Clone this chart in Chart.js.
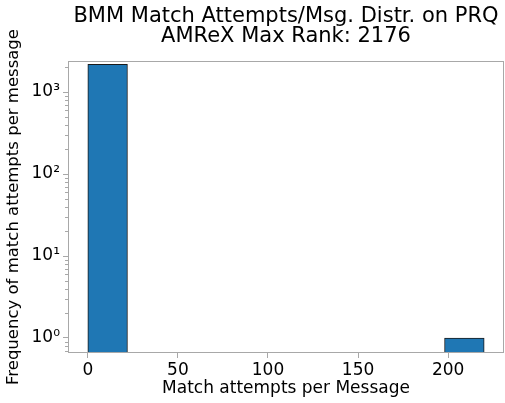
<!DOCTYPE html>
<html>
<head>
<meta charset="utf-8">
<script src="https://cdn.jsdelivr.net/npm/chart.js@4/dist/chart.umd.min.js"></script>
<style>
  html, body { margin: 0; padding: 0; background: #fff; }
  #wrap { width: 505px; height: 403px; }
</style>
</head>
<body>
<div id="wrap"><canvas id="myChart"></canvas></div>
<script>
// histogram: 10 bins of width 22 between 0 and 220
const binCenters = [11, 33, 55, 77, 99, 121, 143, 165, 187, 209]
const binCounts = [2175, null, null, null, null, null, null, null, null, 1]
const xTicks = [0, 50, 100, 150, 200]
const yTicks = [1, 10, 100, 1000]
const yTickLabels = ['10\u2070', '10\u00b9', '10\u00b2', '10\u00b3']
const titleLines = ['BMM Match Attempts/Msg. Distr. on PRQ', 'AMReX Max Rank: 2176']

const spineColor = '#a8a8a8'
const fontFam = "'DejaVu Sans', sans-serif"

// titolo centrato sull'area del grafico (come matplotlib)
const axesTitle = {
  id: 'axesTitle',
  afterDraw(chart) {
    const { ctx, chartArea } = chart
    const cx = (chartArea.left + chartArea.right) / 2
    ctx.save()
    ctx.font = '21px ' + fontFam
    ctx.fillStyle = '#000'
    ctx.textAlign = 'center'
    ctx.textBaseline = 'alphabetic'
    ctx.fillText(titleLines[0], cx, 22)
    ctx.fillText(titleLines[1], cx, 42)
    ctx.restore()
  }
}

// bordo del grafico + tacche minori sull'asse log
const axesBox = {
  id: 'axesBox',
  afterDraw(chart) {
    const { ctx, chartArea } = chart
    const y = chart.scales.y
    ctx.save()
    ctx.strokeStyle = spineColor
    ctx.lineWidth = 1
    ctx.strokeRect(chartArea.left + 0.5, chartArea.top + 0.5,
      chartArea.right - chartArea.left - 1, chartArea.bottom - chartArea.top - 1)
    ctx.beginPath()
    for (let d = -1; d <= 3; d++) {
      for (let k = 2; k <= 9; k++) {
        const v = k * Math.pow(10, d)
        if (v < y.min || v > y.max) continue
        const py = Math.round(y.getPixelForValue(v)) + 0.5
        ctx.moveTo(chartArea.left, py)
        ctx.lineTo(chartArea.left - 3, py)
      }
    }
    ctx.stroke()
    ctx.restore()
  }
}

const ctx = document.getElementById('myChart')

new Chart(ctx, {
  type: 'bar',
  plugins: [axesBox, axesTitle],
  data: {
    datasets: [{
      data: binCenters.map((c, i) => ({ x: c, y: binCounts[i] })),
      backgroundColor: '#1f77b4',
      borderColor: '#1a1a1a',
      borderWidth: 1,
      borderSkipped: false,
      barPercentage: 1,
      categoryPercentage: 1
    }]
  },
  options: {
    responsive: true,
    maintainAspectRatio: false,
    animation: false,
    layout: { padding: { left: 0, right: 1, top: 61, bottom: 0 } },
    plugins: {
      legend: { display: false },
      tooltip: { enabled: false },
      title: { display: false }
    },
    scales: {
      x: {
        type: 'linear',
        offset: false,
        min: -11,
        max: 231,
        afterBuildTicks: s => { s.ticks = xTicks.map(v => ({ value: v })) },
        afterFit: s => { s.height = 50 },
        grid: { offset: false, drawOnChartArea: false, tickLength: 5, color: spineColor, tickColor: spineColor },
        border: { display: false },
        ticks: { color: '#000', font: { family: fontFam, size: 17 }, padding: 2, maxRotation: 0 },
        title: {
          display: true,
          text: 'Match attempts per Message',
          color: '#000',
          font: { family: fontFam, size: 17 },
          padding: { top: 0, bottom: 4 }
        }
      },
      y: {
        type: 'logarithmic',
        min: 0.656,
        max: 2390,
        afterBuildTicks: s => { s.ticks = yTicks.map(v => ({ value: v })) },
        afterFit: s => { s.width = 68 },
        grid: { drawOnChartArea: false, tickLength: 5, color: spineColor, tickColor: spineColor },
        border: { display: false },
        ticks: {
          color: '#000',
          font: { family: fontFam, size: 17 },
          padding: 3,
          callback: (v) => yTickLabels[yTicks.indexOf(v)]
        },
        title: {
          display: true,
          text: 'Frequency of match attempts per message',
          color: '#000',
          font: { family: fontFam, size: 16.5 },
          padding: { top: 4, bottom: 0 }
        }
      }
    }
  }
})
</script>
</body>
</html>
